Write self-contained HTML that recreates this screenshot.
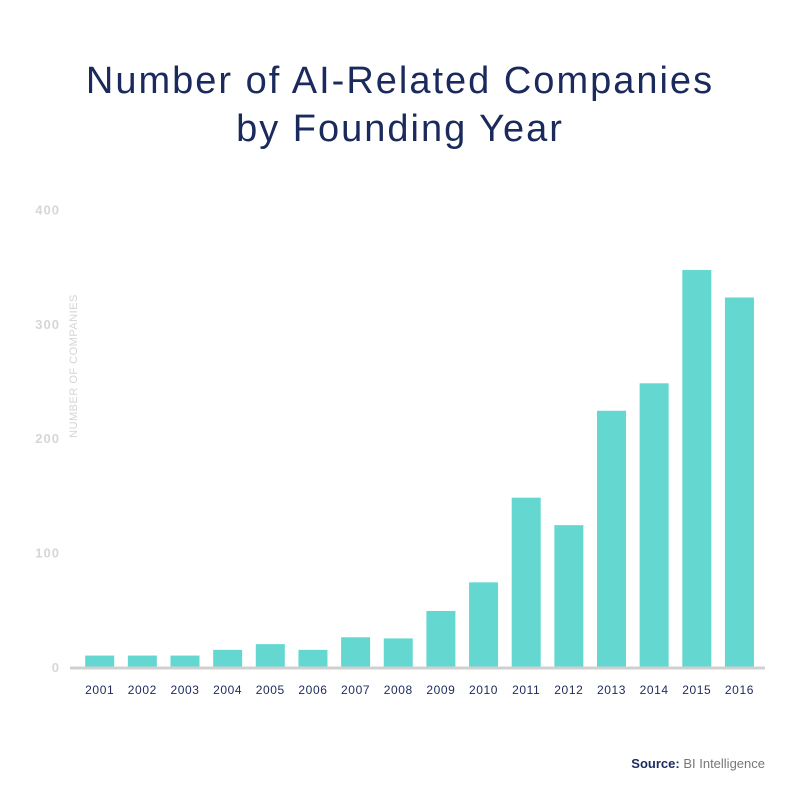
<!DOCTYPE html>
<html><head><meta charset="utf-8"><style>
body{margin:0;background:#fff;width:800px;height:800px;overflow:hidden;font-family:"Liberation Sans",sans-serif}
</style></head><body>
<svg width="800" height="800">
<text x="400" y="93" text-anchor="middle" font-size="38" letter-spacing="2" fill="#1b2a5c">Number of AI-Related Companies</text>
<text x="400" y="141" text-anchor="middle" font-size="38" letter-spacing="2" fill="#1b2a5c">by Founding Year</text>
<text transform="translate(77,366) rotate(-90)" text-anchor="middle" font-size="11" letter-spacing="0.5" fill="#d4d4d4">NUMBER OF COMPANIES</text>
<g id="ticks"></g><g id="bars"></g>
<line x1="70" y1="668" x2="765" y2="668" stroke="#d0d0d0" stroke-width="3"/>
<text x="765" y="768" text-anchor="end" font-size="13" fill="#1b2a5c"><tspan font-weight="bold">Source:</tspan> <tspan fill="#777">BI Intelligence</tspan></text>
</svg>
<script>
const years=["2001","2002","2003","2004","2005","2006","2007","2008","2009","2010","2011","2012","2013","2014","2015","2016"];
const counts=[10,10,10,15,20,15,26,25,49,74,148,124,224,248,347,323];
const yTicks=[0,100,200,300,400];
const ns="http://www.w3.org/2000/svg";
const y=v=>667-v*1.144;
const x=i=>99.7+i*42.65;
const tg=document.getElementById('ticks'),bg=document.getElementById('bars');
yTicks.forEach(t=>{const e=document.createElementNS(ns,'text');


e.setAttribute('x',60);e.setAttribute('y',y(t)+5);e.setAttribute('text-anchor','end');e.setAttribute('font-size','13');e.setAttribute('font-weight','bold');e.setAttribute('letter-spacing','1');e.setAttribute('fill','#d6d6d6');e.textContent=t;tg.appendChild(e);});
years.forEach((yr,i)=>{const r=document.createElementNS(ns,'rect');


r.setAttribute('x',x(i)-14.5);r.setAttribute('width',29);r.setAttribute('y',y(counts[i]));r.setAttribute('height',667-y(counts[i]));r.setAttribute('fill','#64d8d0');bg.appendChild(r);
const l=document.createElementNS(ns,'text');


l.setAttribute('x',x(i));l.setAttribute('y',694);l.setAttribute('text-anchor','middle');l.setAttribute('font-size','12');l.setAttribute('letter-spacing','0.6');l.setAttribute('fill','#1b2a5c');l.textContent=yr;tg.appendChild(l);});
</script>
</body></html>
